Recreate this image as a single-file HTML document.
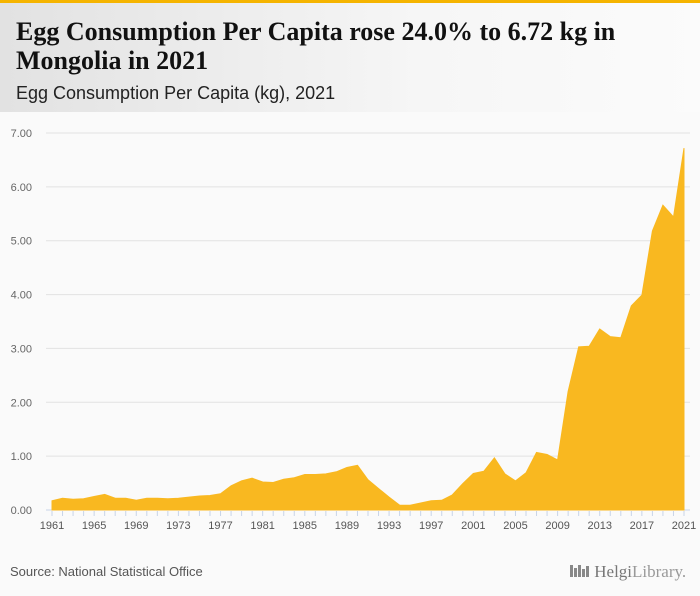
<!DOCTYPE html>
<html><head><meta charset="utf-8"><style>
body{margin:0;width:700px;height:596px;overflow:hidden;background:#fafafa;font-family:"Liberation Sans",sans-serif}
#hdr{position:absolute;left:0;top:0;width:700px;height:112px;background:linear-gradient(90deg,#e2e2e2,#f6f6f6 60%,#fbfbfb);border-top:3px solid #f5b400;box-sizing:border-box}
#title{position:absolute;left:16px;top:14px;font:bold 26px/29px "Liberation Serif",serif;color:#111;width:680px}
#sub{position:absolute;left:16px;top:80px;font:18px "Liberation Sans",sans-serif;color:#222}
#src{position:absolute;left:10px;top:564px;font:13px "Liberation Sans",sans-serif;color:#555}
#logo{position:absolute;left:570px;top:562px;font:17px "Liberation Serif",serif;color:#999;white-space:nowrap}
#logo i{display:inline-block;width:3px;background:#888;margin-right:1px;vertical-align:baseline}
</style></head><body>
<div id="hdr">
<div id="title">Egg Consumption Per Capita rose 24.0% to 6.72 kg in Mongolia in 2021</div>
<div id="sub">Egg Consumption Per Capita (kg), 2021</div>
</div>
<svg id="chart" width="700" height="596" style="position:absolute;left:0;top:0"></svg>
<div id="src">Source: National Statistical Office</div>
<div id="logo"><i style="height:12px"></i><i style="height:9px"></i><i style="height:12px"></i><i style="height:8px"></i><i style="height:11px"></i> <span style="color:#777">Helgi</span>Library.</div>
<script>
const years=[];for(let y=1961;y<=2021;y++)years.push(y);
const values=[0.17,0.22,0.20,0.21,0.25,0.29,0.22,0.22,0.18,0.22,0.22,0.21,0.22,0.24,0.26,0.27,0.30,0.45,0.54,0.59,0.52,0.51,0.57,0.60,0.66,0.66,0.67,0.71,0.79,0.83,0.56,0.40,0.24,0.09,0.09,0.13,0.17,0.18,0.28,0.49,0.68,0.72,0.97,0.67,0.54,0.69,1.07,1.03,0.93,2.20,3.03,3.04,3.36,3.22,3.20,3.79,3.99,5.18,5.66,5.44,6.72];
const yTicks=[0,1,2,3,4,5,6,7];
const xLabels=[1961,1965,1969,1973,1977,1981,1985,1989,1993,1997,2001,2005,2009,2013,2017,2021];
const svg=document.getElementById('chart');const NS='http://www.w3.org/2000/svg';
const x=v=>52+(v-1961)*(632/60);
const y=v=>510-v*(377/7);
function mk(t,a){const e=document.createElementNS(NS,t);for(const k in a)e.setAttribute(k,a[k]);svg.appendChild(e);return e;}
yTicks.forEach(t=>{
const g=mk('line',{x1:46,x2:690,y1:y(t),y2:y(t),stroke:t?'#e2e2e2':'#c8d4e8','stroke-width':1});


const l=mk('text',{x:32,y:y(t)+4,'text-anchor':'end','font-size':11,fill:'#666','font-family':'Liberation Sans'});
l.textContent=t.toFixed(2);


});
years.forEach(yr=>{
const t=mk('line',{x1:x(yr),x2:x(yr),y1:511,y2:516,stroke:'#c8d4e8'});


});
xLabels.forEach(yr=>{
const l=mk('text',{x:x(yr),y:529,'text-anchor':'middle','font-size':11,fill:'#555','font-family':'Liberation Sans'});
l.textContent=yr;


});
let d='M'+x(years[0])+','+y(0);
years.forEach((yr,i)=>{d+=' L'+x(yr).toFixed(1)+','+y(values[i]).toFixed(1);});
d+=' L'+x(years[years.length-1])+','+y(0)+' Z';
const a=mk('path',{d:d,fill:'#f9b820',stroke:'#f9b820','stroke-width':1});


</script>
</body></html>
